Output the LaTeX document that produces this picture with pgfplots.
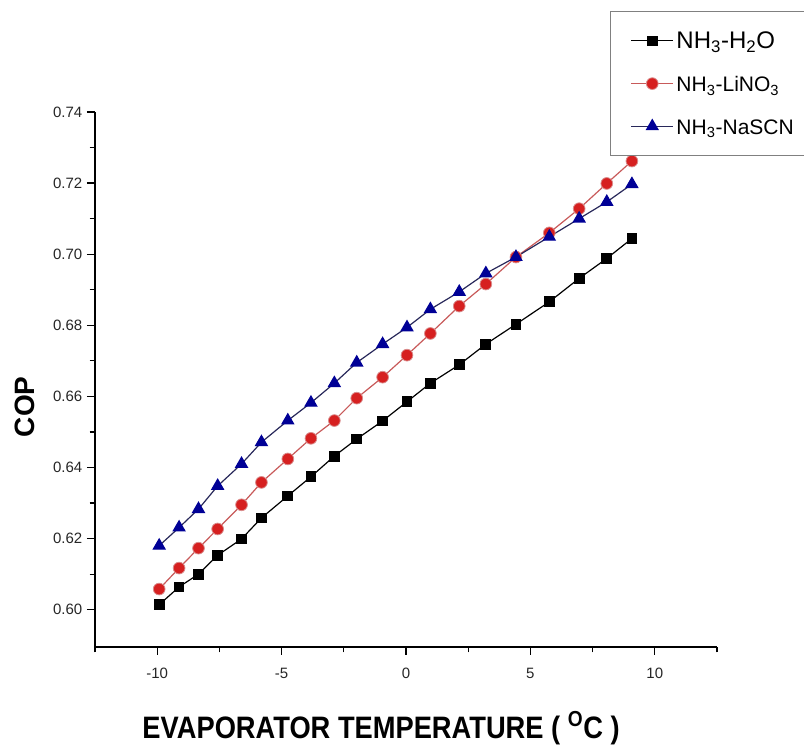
\documentclass[border=0pt]{standalone}
\usepackage{pgfplots}
\pgfplotsset{compat=1.18}
\usepackage{fontspec}
\setmainfont{Liberation Sans}
\newfontfamily\narrowfont[FakeStretch=0.88]{Liberation Sans}

\definecolor{cblack}{RGB}{0,0,0}
\definecolor{cred}{RGB}{214,32,32}
\definecolor{credline}{RGB}{200,90,90}
\definecolor{cblue}{RGB}{0,0,150}
\definecolor{cblueline}{RGB}{40,40,90}

\begin{document}
\begin{tikzpicture}
\begin{axis}[
    width=466.5pt, height=401.25pt, scale only axis,
    xmin=-12.5, xmax=12.5,
    ymin=0.5895, ymax=0.74,
    axis x line=bottom, axis y line=left,
    axis line style={-, line width=1pt},
    xtick={-10,-5,0,5,10},
    minor xtick={-12.5,-7.5,-2.5,2.5,7.5,12.5},
    ytick={0.60,0.62,0.64,0.66,0.68,0.70,0.72,0.74},
    minor ytick={0.61,0.63,0.65,0.67,0.69,0.71,0.73},
    tick align=outside,
    major tick length=6pt, minor tick length=4pt,
    every tick/.style={black, line width=0.9pt},
    tick label style={font=\fontsize{11.25}{12}\selectfont, text=black!85},
    xticklabel style={yshift=-6pt},
    /pgf/number format/assume math mode=true,
    yticklabel style={/pgf/number format/.cd, fixed, fixed zerofill, precision=2},
    scaled y ticks=false,
    xlabel={\narrowfont\bfseries\fontsize{23.25}{24}\selectfont EVAPORATOR TEMPERATURE ( \textsuperscript{O}C )},
    xlabel style={at={(axis description cs:0.46,-0.151)}, anchor=center},
    ylabel={\bfseries\fontsize{21}{22}\selectfont COP},
    ylabel style={at={(axis description cs:-0.1125,0.449)}, anchor=center, rotate=0},
    legend style={at={(axis description cs:0.828,1.189)}, anchor=north west,
        draw=black!50, line width=1.1pt, fill=white,
        inner xsep=15pt, inner ysep=11pt, row sep=10pt,
        nodes={inner sep=2pt, text height=15pt, text depth=3pt}},
    legend cell align=left,
    legend image code/.code={
        \draw[mark repeat=2, mark phase=2, line width=0.8pt, #1]
            plot coordinates {(0pt,0pt) (15.75pt,0pt) (31.5pt,0pt)};
    },
]
\addplot[cblack, line width=0.9pt, mark=square*, mark size=3.6pt,
    mark options={fill=cblack, draw=cblack}] coordinates {
    (-9.92,0.6014) (-9.12,0.6064) (-8.34,0.6100) (-7.57,0.6153) (-6.61,0.6199)
    (-5.81,0.6258) (-4.75,0.6320) (-3.82,0.6374) (-2.88,0.6432) (-1.98,0.6480)
    (-0.94,0.6531) (0.04,0.6585) (0.98,0.6637) (2.14,0.6689) (3.21,0.6747)
    (4.42,0.6803) (5.76,0.6866) (6.96,0.6932) (8.07,0.6988) (9.08,0.7044)
};
\addplot[credline, line width=0.9pt, mark=*, mark size=4.4pt,
    mark options={fill=cred, draw=credline!70!white, line width=0.6pt}] coordinates {
    (-9.92,0.6058) (-9.12,0.6117) (-8.34,0.6173) (-7.57,0.6227) (-6.61,0.6295)
    (-5.81,0.6358) (-4.75,0.6424) (-3.82,0.6482) (-2.88,0.6532) (-1.98,0.6595)
    (-0.94,0.6654) (0.04,0.6716) (0.98,0.6777) (2.14,0.6854) (3.21,0.6916)
    (4.42,0.6992) (5.76,0.7060) (6.96,0.7128) (8.07,0.7199) (9.08,0.7262)
};
\addplot[cblueline, line width=0.9pt, mark=triangle*, mark size=5pt,
    mark options={fill=cblue, draw=cblue}] coordinates {
    (-9.92,0.6180) (-9.12,0.6231) (-8.34,0.6283) (-7.57,0.6348) (-6.61,0.6410)
    (-5.81,0.6471) (-4.75,0.6532) (-3.82,0.6582) (-2.88,0.6637) (-1.98,0.6695)
    (-0.94,0.6747) (0.04,0.6794) (0.98,0.6845) (2.14,0.6894) (3.21,0.6946)
    (4.42,0.6992) (5.76,0.7049) (6.96,0.7100) (8.07,0.7147) (9.08,0.7197)
};
\legend{{\fontsize{18}{20}\selectfont NH\textsubscript{3}-H\textsubscript{2}O},
        {\fontsize{15.75}{18}\selectfont NH\textsubscript{3}-LiNO\textsubscript{3}},
        {\fontsize{15.75}{18}\selectfont NH\textsubscript{3}-NaSCN}}
\end{axis}
\pgfresetboundingbox
\path[use as bounding box] (-71.25pt,-74.25pt) rectangle (531.75pt,485.25pt);
\end{tikzpicture}
\end{document}
